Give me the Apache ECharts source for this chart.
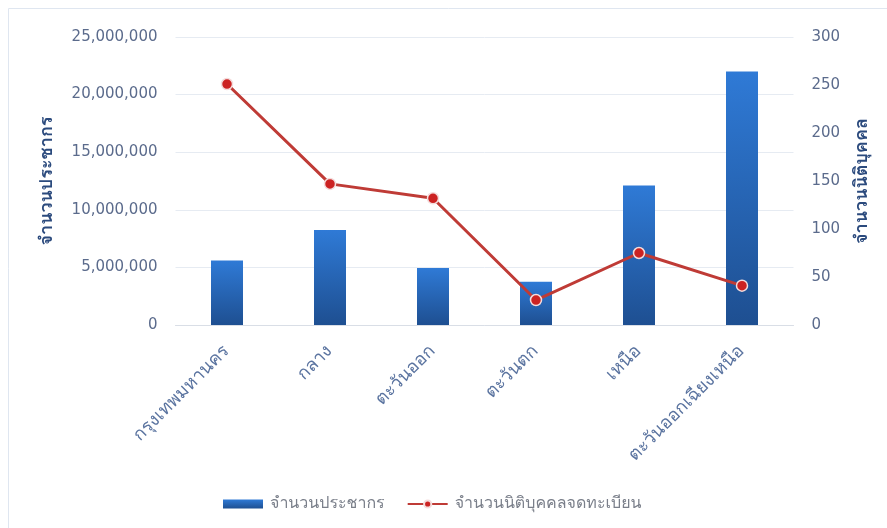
<!DOCTYPE html>
<html><head><meta charset="utf-8">
<script src="https://cdn.jsdelivr.net/npm/echarts@6/dist/echarts.min.js"></script>
<style>html,body{margin:0;padding:0;background:#fff}#c{width:887px;height:528px}</style>
</head><body><div id="c"></div>
<script>
const categories = ['กรุงเทพมหานคร','กลาง','ตะวันออก','ตะวันตก','เหนือ','ตะวันออกเฉียงเหนือ'];
const population = [5600000, 8250000, 4950000, 3750000, 12100000, 22000000];
const companies = [251, 147, 132, 26, 75, 41];
const leftTicks = {min: 0, max: 25000000, interval: 5000000};
const rightTicks = {min: 0, max: 300, interval: 50};
const seriesNames = ['จำนวนประชากร', 'จำนวนนิติบุคคลจดทะเบียน'];
const axisNames = ['จำนวนประชากร', 'จำนวนนิติบุคคล'];

const FONT = "Tahoma, Loma, Garuda, Waree, 'Noto Sans Thai Looped', 'Noto Sans Thai', 'Noto Sans', 'DejaVu Sans', sans-serif";
const NUMFONT = "'DejaVu Sans', sans-serif";
const chart = echarts.init(document.getElementById('c'), null, {renderer: 'canvas'});
chart.setOption({
  animation: false,
  textStyle: {fontFamily: FONT},
  graphic: [{type: 'rect', shape: {x: 8.5, y: 8.5, width: 900, height: 560}, style: {fill: 'none', stroke: '#dfe6f0', lineWidth: 1}, silent: true}],
  grid: {left: 175.5, right: 93.5, top: 37, bottom: 203},
  legend: {
    top: 491, left: 218, itemGap: 22, itemWidth: 40, itemHeight: 9,
    textStyle: {color: '#7a7f8a', fontSize: 16, fontFamily: FONT, padding: [0, 0, 0, 2]},
    data: [{name: seriesNames[0], icon: 'rect'}, {name: seriesNames[1]}]
  },
  xAxis: {
    type: 'category', data: categories,
    axisLine: {lineStyle: {color: '#d9dee6'}}, axisTick: {show: false},
    axisLabel: {rotate: 45, color: '#5b74a0', fontSize: 18, margin: 24, interval: 0, fontFamily: FONT}
  },
  yAxis: [{
    type: 'value', min: leftTicks.min, max: leftTicks.max, interval: leftTicks.interval,
    name: axisNames[0], nameLocation: 'middle', nameGap: 119, nameRotate: 90,
    nameTextStyle: {color: '#2b4a7d', fontWeight: 'bold', fontSize: 18, fontFamily: FONT},
    axisLabel: {color: '#5b6b8c', fontSize: 15, margin: 18, fontFamily: NUMFONT, formatter: v => v.toLocaleString('en-US')},
    splitLine: {lineStyle: {color: '#e6ebf2'}}, axisLine: {show: false}, axisTick: {show: false}
  }, {
    type: 'value', min: rightTicks.min, max: rightTicks.max, interval: rightTicks.interval,
    name: axisNames[1], nameLocation: 'middle', nameGap: 60, nameRotate: 90,
    nameTextStyle: {color: '#2b4a7d', fontWeight: 'bold', fontSize: 18, fontFamily: FONT},
    axisLabel: {color: '#5b6b8c', fontSize: 15, margin: 18, fontFamily: NUMFONT},
    splitLine: {show: false}, axisLine: {show: false}, axisTick: {show: false}
  }],
  series: [{
    name: seriesNames[0], type: 'bar', data: population, barWidth: 32, yAxisIndex: 0,
    itemStyle: {color: new echarts.graphic.LinearGradient(0, 0, 0, 1, [
      {offset: 0, color: '#2f7ad6'}, {offset: 1, color: '#1e4f91'}])}
  }, {
    name: seriesNames[1], type: 'line', data: companies, yAxisIndex: 1,
    symbol: 'circle', symbolSize: 11,
    lineStyle: {color: '#bf3b36', width: 3},
    itemStyle: {color: '#cc2222', borderColor: '#f4dcdc', borderWidth: 1.5}
  }]
});
</script></body></html>
